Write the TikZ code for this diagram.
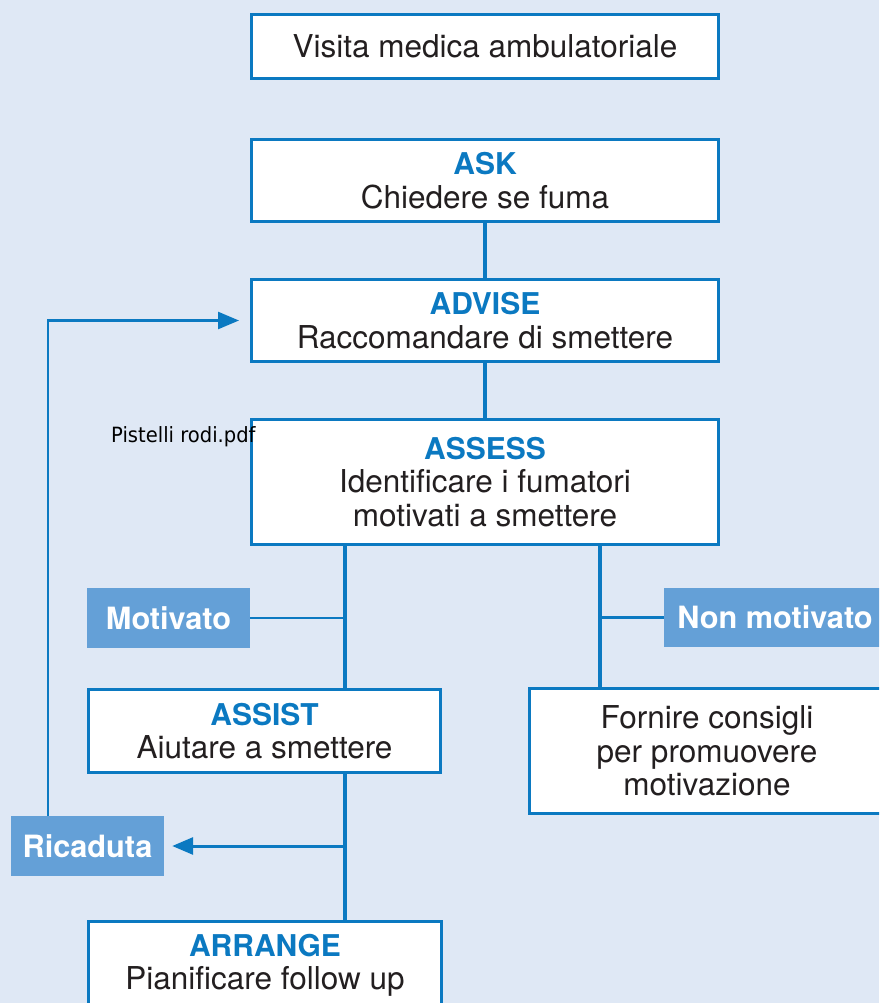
\documentclass[tikz,border=0pt]{standalone}
\usepackage{fontspec}
\setmainfont{TeX Gyre Heros}
\newfontfamily\stampfont{DejaVu Sans}
\usetikzlibrary{arrows.meta}
\definecolor{bgc}{HTML}{DFE8F5}
\definecolor{bblue}{HTML}{0B79C1}
\definecolor{lblue}{HTML}{64A0D7}
\definecolor{txt}{HTML}{231F20}
\newcommand\hd[1]{{\color{bblue}\bfseries\fontsize{30}{33.5}\selectfont #1}}
\tikzset{
  box/.style={draw=bblue, line width=3pt, fill=white, inner sep=0pt, text=txt, align=center,
    font=\fontsize{31.5}{33.5}\selectfont},
  lab/.style={fill=lblue, inner sep=0pt, text=white, font=\bfseries\fontsize{30.7}{34}\selectfont},
  trunk/.style={draw=bblue, line width=4pt},
  thin/.style={draw=bblue, line width=2.5pt},
  arr/.style={-{Triangle[length=21pt,width=17pt]}}
}
\begin{document}
\begin{tikzpicture}[x=1pt,y=-1pt]
\fill[bgc] (0,0) rectangle (879,1003);
\clip (0,0) rectangle (879,1003);

\node[box, minimum width=467pt, minimum height=64pt] (visita) at (485,46.5) {\raisebox{-1.5pt}{Visita medica ambulatoriale}};
\node[box, minimum width=467pt, minimum height=82pt] (ask) at (485,180.5) {\hd{ASK}\\Chiedere se fuma};
\node[box, minimum width=467pt, minimum height=82pt] (advise) at (485,320.5) {\hd{ADVISE}\\Raccomandare di smettere};
\node[box, minimum width=467pt, minimum height=125pt] (assess) at (485,482) {\hd{ASSESS}\\Identificare i fumatori\\motivati a smettere};
\node[box, minimum width=352pt, minimum height=83pt] (assist) at (264.5,731) {\hd{ASSIST}\\Aiutare a smettere};
\node[box, minimum width=355pt, minimum height=125pt] (fornire) at (707,751) {Fornire consigli\\per promuovere\\motivazione};
\node[box, minimum width=353pt, minimum height=88pt] (arrange) at (265,965.5) {\hd{ARRANGE}\\Pianificare follow up};

\node[lab, minimum width=163pt, minimum height=60pt] (motivato) at (168.5,618) {Motivato};
\node[lab, minimum width=222pt, minimum height=59pt] (nonmot) at (775,617.5) {Non motivato};
\node[lab, minimum width=153pt, minimum height=60pt] (ricaduta) at (87.5,846) {Ricaduta};

\node[anchor=base west, inner sep=0pt, text=black, font=\stampfont\fontsize{21}{24}\selectfont] (stamp) at (111,442) {\scalebox{0.93}[1]{Pistelli rodi.pdf}};

% trunks
\draw[trunk] (ask.south) -- (advise.north);
\draw[trunk] (advise.south) -- (assess.north);
\coordinate (jl) at ([xshift=-140pt]assess.south);
\coordinate (jr) at ([xshift=115pt]assess.south);
\draw[trunk] (jl) -- (jl |- assist.north);
\draw[trunk] (jr) -- (jr |- fornire.north);
\coordinate (ja) at ([xshift=80.5pt]assist.south);
\draw[trunk] (ja) -- (ja |- arrange.north);

% side connectors
\draw[thin] (motivato.east) -- (jl |- motivato.east);
\draw[thin] (nonmot.west) -- (jr |- nonmot.west);
\draw[thin, line width=3pt, arr] (ja |- ricaduta.east) -- ([xshift=8pt]ricaduta.east);
\draw[thin, arr] ([xshift=-39.5pt]ricaduta.north) |- ([xshift=-11pt]advise.west);
\end{tikzpicture}
\end{document}
